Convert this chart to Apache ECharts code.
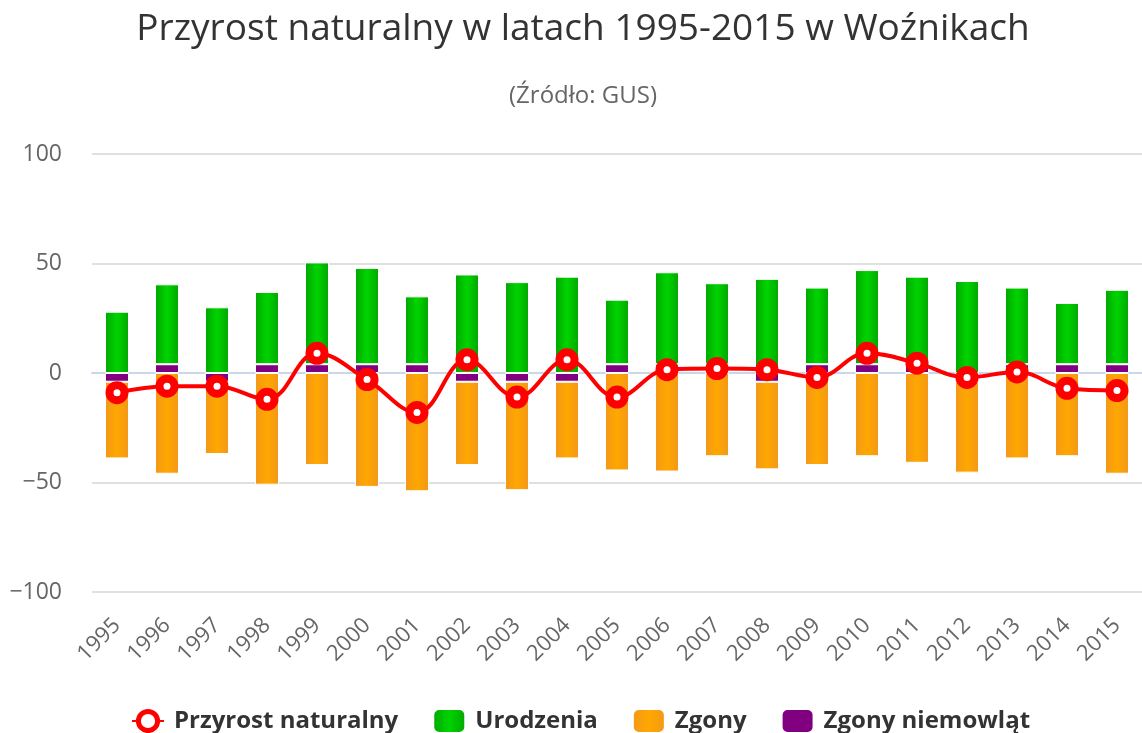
<!DOCTYPE html>
<html>
<head>
<meta charset="utf-8">
<title>Przyrost naturalny</title>
<script src="https://cdn.jsdelivr.net/npm/echarts@6/dist/echarts.min.js"></script>
<style>
  html, body { margin: 0; padding: 0; background: #fff; }
  #chart { width: 1142px; height: 733px; }
</style>
</head>
<body>
<div id="chart"></div>
<script>
const years = ['1995', '1996', '1997', '1998', '1999', '2000', '2001', '2002', '2003', '2004', '2005',
    '2006', '2007', '2008', '2009', '2010', '2011', '2012', '2013', '2014', '2015'];
const przyrost = [-9, -6, -6, -12, 9, -3, -18, 6, -11, 6, -11, 1.5, 2, 1.5, -2, 9, 4.5, -2, 0.5, -7, -8];
const urodzenia = [28, 36.5, 30, 33, 46.5, 44, 31, 45, 41.5, 44, 29.5, 42, 37, 43, 35, 43, 40, 42, 35, 28, 34];
const zgony = [-35, -46, -33, -51, -42, -52, -54, -38, -49.5, -35, -44.5, -45, -38, -40, -42, -38, -41, -41.5, -39, -38, -46];
const zgonyNiemowlat = [-4, 4, -4, 4, 4, 4, 4, -4, -4, -4, 4, 4, 4, -4, 4, 4, 4, -4, 4, 4, 4];
const yTicks = { min: -100, max: 100, interval: 50 };

const FONT = '"Open Sans", sans-serif';

function barGradient(edge, mid) {
    return new echarts.graphic.LinearGradient(0, 0, 1, 0, [
        { offset: 0, color: edge },
        { offset: 0.5, color: mid },
        { offset: 1, color: edge }
    ]);
}

const chart = echarts.init(document.getElementById('chart'));

const option = {
    animation: false,
    title: [
        {
            text: 'Przyrost naturalny w latach 1995-2015 w Woźnikach',
            left: 578,
            top: 6,
            textAlign: 'center',
            textStyle: { fontFamily: FONT, fontSize: 37, fontWeight: 'normal', color: '#333' }
        },
        {
            text: '(Źródło: GUS)',
            left: 578,
            top: 79,
            textAlign: 'center',
            textStyle: { fontFamily: FONT, fontSize: 24, fontWeight: 'normal', color: '#666' }
        }
    ],
    legend: {
        data: [
            { name: 'Przyrost naturalny', itemStyle: { borderWidth: 5 } },
            'Urodzenia', 'Zgony', 'Zgony niemowląt'
        ],
        left: 126,
        top: 703,
        itemWidth: 32,
        itemHeight: 24,
        itemGap: 34,
        textStyle: {
            fontFamily: FONT, fontSize: 24, fontWeight: 'bold', color: '#333',
            padding: [0, 0, 0, 5]
        }
    },
    grid: {
        left: 92,
        top: 154,
        width: 1056,
        bottom: 141
    },
    xAxis: {
        type: 'category',
        data: years,
        axisLine: { lineStyle: { color: '#ccd6eb', width: 2 } },
        axisTick: { length: 20, interval: 0, lineStyle: { color: '#ccd6eb', width: 2 } },
        axisLabel: {
            rotate: 45,
            interval: 0,
            margin: 30,
            fontFamily: FONT,
            fontSize: 22,
            color: '#666'
        }
    },
    yAxis: {
        type: 'value',
        min: yTicks.min,
        max: yTicks.max,
        interval: yTicks.interval,
        axisLine: { show: false },
        axisTick: { show: false },
        splitLine: { lineStyle: { color: '#e0e0e0', width: 2 } },
        axisLabel: {
            margin: 30,
            fontFamily: FONT,
            fontSize: 23,
            color: '#666',
            padding: [0, 0, 8, 0],
            formatter: v => String(v).replace('-', '\u2212')
        }
    },
    series: [
        {
            name: 'Zgony niemowląt',
            type: 'bar',
            stack: 'total',
            barWidth: 24,
            data: zgonyNiemowlat,
            itemStyle: { color: '#800080', borderColor: '#fff', borderWidth: 1 }
        },
        {
            name: 'Urodzenia',
            type: 'bar',
            stack: 'total',
            barWidth: 24,
            data: urodzenia,
            itemStyle: { color: barGradient('#00a600', '#00d400'), borderColor: '#fff', borderWidth: 1 }
        },
        {
            name: 'Zgony',
            type: 'bar',
            stack: 'total',
            barWidth: 24,
            data: zgony,
            itemStyle: { color: barGradient('#f2971a', '#ffa800'), borderColor: '#fff', borderWidth: 1 }
        },
        {
            name: 'Przyrost naturalny',
            type: 'line',
            data: przyrost,
            smooth: 0.4,
            z: 5,
            symbol: 'circle',
            symbolSize: 15,
            lineStyle: { color: '#f00', width: 4 },
            itemStyle: { color: '#fff', borderColor: '#f00', borderWidth: 8 }
        }
    ]
};

chart.setOption(option);
</script>
</body>
</html>
